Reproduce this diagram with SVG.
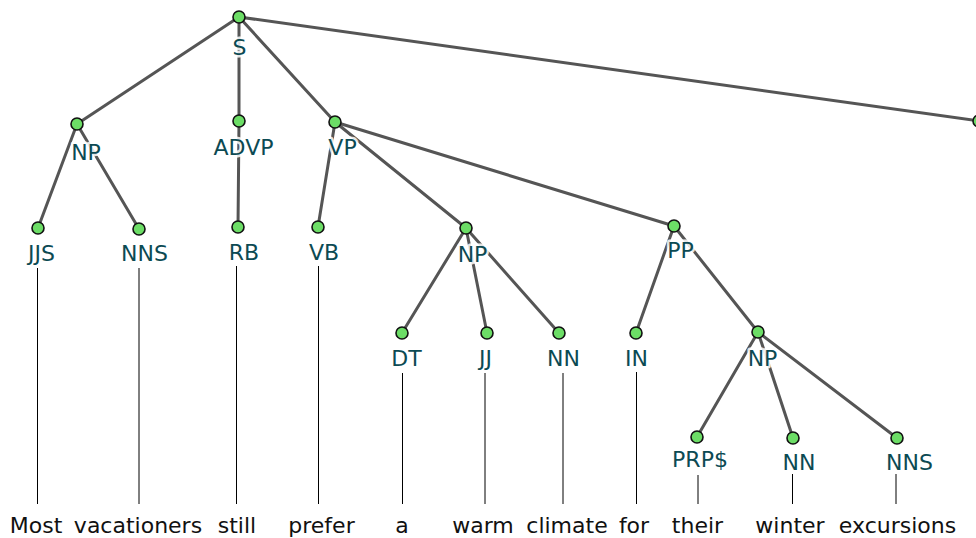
<svg xmlns="http://www.w3.org/2000/svg" width="976" height="538" viewBox="0 0 976 538">
  <style>
    .edge { stroke: #555555; stroke-width: 3; fill: none; stroke-linecap: round; }
    .tie { stroke: #000000; stroke-width: 1; }
    .node circle { fill: #6cdd66; stroke: #111111; stroke-width: 1.6; }
    .node text { font-family: "DejaVu Sans", Verdana, sans-serif; font-size: 22px; fill: #0c4a53; text-anchor: middle; stroke: rgba(255,255,255,0.85); stroke-width: 5; stroke-linejoin: round; paint-order: stroke; }
    .word { font-family: "DejaVu Sans", Verdana, sans-serif; font-size: 22px; fill: #111111; text-anchor: middle; }
  </style>
  <rect width="976" height="538" fill="#ffffff"/>

  <!-- tree branches, parent centre to child centre -->
  <g id="connectors">
    <line class="edge" x1="239" y1="17" x2="77" y2="124"/>
    <line class="edge" x1="239" y1="17" x2="239" y2="121"/>
    <line class="edge" x1="239" y1="17" x2="335" y2="122"/>
    <line class="edge" x1="239" y1="17" x2="979" y2="121"/>
    <line class="edge" x1="77" y1="124" x2="38" y2="228"/>
    <line class="edge" x1="77" y1="124" x2="139" y2="229"/>
    <line class="edge" x1="239" y1="121" x2="238" y2="227"/>
    <line class="edge" x1="335" y1="122" x2="318" y2="227"/>
    <line class="edge" x1="335" y1="122" x2="466" y2="228"/>
    <line class="edge" x1="335" y1="122" x2="674" y2="226"/>
    <line class="edge" x1="466" y1="228" x2="402" y2="333"/>
    <line class="edge" x1="466" y1="228" x2="487" y2="333"/>
    <line class="edge" x1="466" y1="228" x2="559" y2="333"/>
    <line class="edge" x1="674" y1="226" x2="636" y2="333"/>
    <line class="edge" x1="674" y1="226" x2="758" y2="332"/>
    <line class="edge" x1="758" y1="332" x2="697" y2="437"/>
    <line class="edge" x1="758" y1="332" x2="793" y2="438"/>
    <line class="edge" x1="758" y1="332" x2="897" y2="438"/>
  </g>

  <!-- thin ties from each tag down to its word -->
  <g id="word-ties">
    <line class="tie" x1="37.5" y1="268" x2="37.5" y2="504"/>
    <line class="tie" x1="139" y1="268" x2="139" y2="504"/>
    <line class="tie" x1="236.5" y1="266" x2="236.5" y2="504"/>
    <line class="tie" x1="318.5" y1="266" x2="318.5" y2="504"/>
    <line class="tie" x1="402.5" y1="373" x2="402.5" y2="504"/>
    <line class="tie" x1="485" y1="373" x2="485" y2="504"/>
    <line class="tie" x1="563" y1="373" x2="563" y2="504"/>
    <line class="tie" x1="636.5" y1="372" x2="636.5" y2="504"/>
    <line class="tie" x1="698" y1="475" x2="698" y2="504" stroke="#777777"/>
    <line class="tie" x1="792.5" y1="474" x2="792.5" y2="504"/>
    <line class="tie" x1="896" y1="474" x2="896" y2="504"/>
  </g>

  <g id="n-S" class="node"><text x="239.5" y="55">S</text><circle cx="239" cy="17" r="6"/></g>
  <g id="n-NP1" class="node"><text x="86" y="160">NP</text><circle cx="77" cy="124" r="6"/></g>
  <g id="n-ADVP" class="node"><text x="243.5" y="155">ADVP</text><circle cx="239" cy="121" r="6"/></g>
  <g id="n-VP" class="node"><text x="342.5" y="155">VP</text><circle cx="335" cy="122" r="6"/></g>
  <g id="n-PUNCT" class="node"><circle cx="979" cy="121" r="6"/></g>
  <g id="n-JJS" class="node"><text x="41.5" y="261">JJS</text><circle cx="38" cy="228" r="6"/></g>
  <g id="n-NNS1" class="node"><text x="144.5" y="261">NNS</text><circle cx="139" cy="229" r="6"/></g>
  <g id="n-RB" class="node"><text x="244" y="260">RB</text><circle cx="238" cy="227" r="6"/></g>
  <g id="n-VB" class="node"><text x="324" y="260">VB</text><circle cx="318" cy="227" r="6"/></g>
  <g id="n-NP2" class="node"><text x="472.5" y="262">NP</text><circle cx="466" cy="228" r="6"/></g>
  <g id="n-PP" class="node"><text x="680.5" y="258">PP</text><circle cx="674" cy="226" r="6"/></g>
  <g id="n-DT" class="node"><text x="406.5" y="366">DT</text><circle cx="402" cy="333" r="6"/></g>
  <g id="n-JJ" class="node"><text x="485.5" y="366">JJ</text><circle cx="487" cy="333" r="6"/></g>
  <g id="n-NN1" class="node"><text x="563.5" y="366">NN</text><circle cx="559" cy="333" r="6"/></g>
  <g id="n-IN" class="node"><text x="636.5" y="366">IN</text><circle cx="636" cy="333" r="6"/></g>
  <g id="n-NP3" class="node"><text x="762.5" y="366">NP</text><circle cx="758" cy="332" r="6"/></g>
  <g id="n-PRP" class="node"><text x="700" y="467">PRP$</text><circle cx="697" cy="437" r="6"/></g>
  <g id="n-NN2" class="node"><text x="799" y="470">NN</text><circle cx="793" cy="438" r="6"/></g>
  <g id="n-NNS2" class="node"><text x="909.5" y="470">NNS</text><circle cx="897" cy="438" r="6"/></g>

  <!-- the sentence -->
  <g id="words">
    <text class="word" x="36" y="533">Most</text>
    <text class="word" x="138" y="533">vacationers</text>
    <text class="word" x="237" y="533">still</text>
    <text class="word" x="321.5" y="533">prefer</text>
    <text class="word" x="402" y="533">a</text>
    <text class="word" x="483" y="533">warm</text>
    <text class="word" x="567" y="533">climate</text>
    <text class="word" x="634" y="533">for</text>
    <text class="word" x="697.5" y="533">their</text>
    <text class="word" x="790" y="533">winter</text>
    <text class="word" x="897.5" y="533">excursions</text>
  </g>
</svg>
